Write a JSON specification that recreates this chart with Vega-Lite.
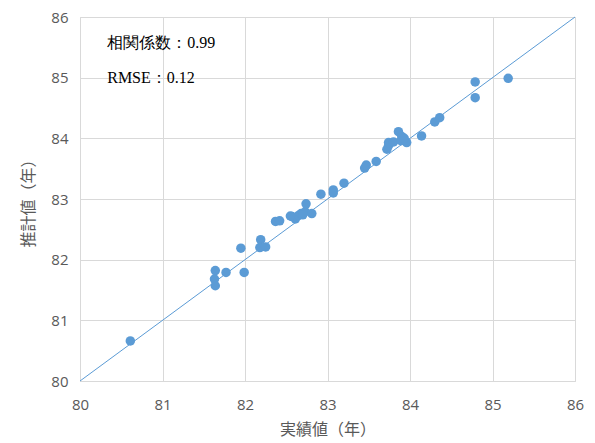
{
  "$schema": "https://vega.github.io/schema/vega-lite/v6.json",
  "width": 495,
  "height": 364,
  "autosize": {"type": "none"},
  "padding": {"left": 80, "top": 17, "right": 20, "bottom": 62},
  "background": "white",
  "config": {
    "view": {"stroke": "#d9d9d9", "strokeWidth": 1},
    "axis": {
      "grid": true, "gridColor": "#d9d9d9", "gridWidth": 1,
      "domain": false, "ticks": false, "labelFlush": false, "format": "d",
      "labelFont": "Open Sans", "labelFontSize": 15, "labelColor": "#595959",
      "titleFont": "Noto Sans CJK JP", "titleFontSize": 16, "titleColor": "#595959", "titleFontWeight": "normal"
    }
  },
  "layer": [
    {
      "data": {"values": [{"x": 80, "y": 80}, {"x": 86, "y": 86}]},
      "mark": {"type": "line", "color": "#5b9bd5", "strokeWidth": 1},
      "encoding": {
        "x": {"field": "x", "type": "quantitative"},
        "y": {"field": "y", "type": "quantitative"}
      }
    },
    {
      "data": {"values": [
        {"actual": 80.61, "est": 80.66},
        {"actual": 81.64, "est": 81.82},
        {"actual": 81.63, "est": 81.68},
        {"actual": 81.64, "est": 81.57},
        {"actual": 81.77, "est": 81.79},
        {"actual": 81.99, "est": 81.79},
        {"actual": 81.95, "est": 82.19},
        {"actual": 82.19, "est": 82.33},
        {"actual": 82.18, "est": 82.20},
        {"actual": 82.25, "est": 82.21},
        {"actual": 82.37, "est": 82.63},
        {"actual": 82.42, "est": 82.64},
        {"actual": 82.57, "est": 82.71},
        {"actual": 82.61, "est": 82.67},
        {"actual": 82.65, "est": 82.73},
        {"actual": 82.68, "est": 82.76},
        {"actual": 82.73, "est": 82.79},
        {"actual": 82.74, "est": 82.92},
        {"actual": 82.81, "est": 82.76},
        {"actual": 82.55, "est": 82.72},
        {"actual": 82.70, "est": 82.74},
        {"actual": 82.92, "est": 83.08},
        {"actual": 83.07, "est": 83.15},
        {"actual": 83.07, "est": 83.10},
        {"actual": 83.20, "est": 83.26},
        {"actual": 83.45, "est": 83.51},
        {"actual": 83.47, "est": 83.56},
        {"actual": 83.59, "est": 83.62},
        {"actual": 83.72, "est": 83.82},
        {"actual": 83.74, "est": 83.88},
        {"actual": 83.74, "est": 83.93},
        {"actual": 83.80, "est": 83.94},
        {"actual": 83.86, "est": 84.11},
        {"actual": 83.90, "est": 84.03},
        {"actual": 83.89, "est": 83.96},
        {"actual": 83.96, "est": 83.93},
        {"actual": 83.93, "est": 84.00},
        {"actual": 84.14, "est": 84.04},
        {"actual": 84.30, "est": 84.27},
        {"actual": 84.36, "est": 84.34},
        {"actual": 84.79, "est": 84.67},
        {"actual": 84.79, "est": 84.93},
        {"actual": 85.19, "est": 84.99}
      ]},
      "mark": {"type": "circle", "size": 90, "color": "#5b9bd5", "opacity": 1},
      "encoding": {
        "x": {"field": "actual", "type": "quantitative", "scale": {"domain": [80, 86], "nice": false, "zero": false},
              "axis": {"values": [80, 81, 82, 83, 84, 85, 86], "title": "実績値（年）", "labelPadding": 16, "titlePadding": 9}},
        "y": {"field": "est", "type": "quantitative", "scale": {"domain": [80, 86], "nice": false, "zero": false},
              "axis": {"values": [80, 81, 82, 83, 84, 85, 86], "title": "推計値（年）", "labelPadding": 12, "titlePadding": 14}}
      }
    },
    {
      "data": {"values": [
        {"label": "相関係数：0.99", "x": 80.33, "y": 85.57},
        {"label": "RMSE：0.12", "x": 80.33, "y": 85.0}
      ]},
      "mark": {"type": "text", "align": "left", "baseline": "middle", "font": "Liberation Serif", "fontSize": 16, "color": "#000000"},
      "encoding": {
        "x": {"field": "x", "type": "quantitative"},
        "y": {"field": "y", "type": "quantitative"},
        "text": {"field": "label"}
      }
    }
  ]
}
